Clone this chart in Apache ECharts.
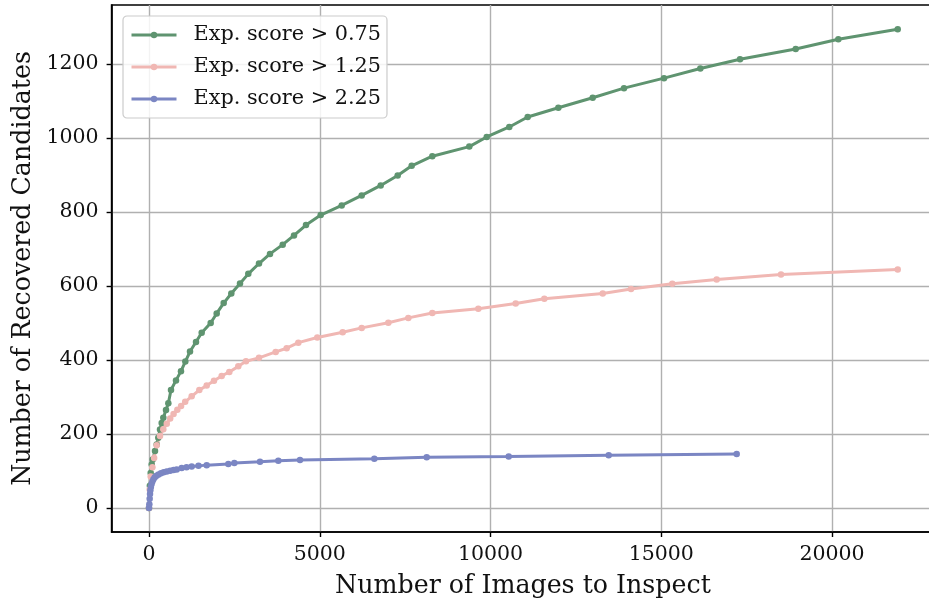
<!DOCTYPE html>
<html>
<head>
<meta charset="utf-8">
<script src="https://cdn.jsdelivr.net/npm/echarts@6/dist/echarts.min.js"></script>
<style>
html,body{margin:0;padding:0;background:#fff;}
#chart{width:929px;height:604px;}
</style>
</head>
<body>
<div id="chart"></div>
<script>
// Series data: [images to inspect, recovered candidates]
const seriesNames = ['Exp. score > 0.75', 'Exp. score > 1.25', 'Exp. score > 2.25'];
const greenData = [
  [0,0],[25,60],[50,95],[79,118],[108,131],[176,154],[225,172],[272,190],[322,212],[371,230],[419,244],
  [498,265],[566,283],[644,319],[791,345],[937,370],[1064,396],[1201,423],[1376,449],[1543,474],
  [1806,500],[1982,526],[2187,554],[2410,580],[2665,607],[2908,633],[3221,661],[3543,687],[3915,712],
  [4246,737],[4597,765],[5028,792],[5643,818],[6228,845],[6785,872],[7282,899],[7692,925],[8296,951],
  [9379,977],[9889,1003],[10550,1030],[11089,1057],[11986,1082],[12992,1109],[13909,1135],[15081,1162],
  [16144,1188],[17306,1213],[18937,1241],[20185,1267],[21924,1294]
];
const pinkData = [
  [0,0],[20,50],[50,85],[100,110],[150,135],[225,170],[322,195],[419,213],[520,228],[620,242],[720,254],
  [830,266],[940,276],[1060,287],[1250,302],[1474,319],[1690,331],[1903,344],[2128,357],[2352,368],
  [2615,383],[2840,397],[3221,406],[3710,422],[4032,432],[4372,447],[4928,461],[5672,475],[6228,487],
  [7008,501],[7593,514],[8296,527],[9643,539],[10737,553],[11576,566],[13286,580],[14114,592],
  [15323,606],[16623,618],[18506,631],[21924,645]
];
const blueData = [
  [0,0],[10,10],[20,25],[30,38],[40,48],[55,57],[75,65],[100,72],[130,78],[170,83],[220,87],[280,91],
  [350,94],[430,97],[520,99],[620,101],[720,103],[811,104],[957,108],[1100,110],[1250,112],[1450,114],
  [1689,116],[2323,119],[2499,122],[3250,125],[3787,128],[4422,130],[6598,133],[8132,137],[10533,139],
  [13461,143],[17209,146]
];
const xTicks = [0, 5000, 10000, 15000, 20000];
const yTicks = [0, 200, 400, 600, 800, 1000, 1200];
const colors = ['#5f9470', '#f0b7b3', '#7b86c3'];

const FONT = 'DejaVu Serif';
const chart = echarts.init(document.getElementById('chart'), null, {renderer: 'canvas'});
const mkSeries = (name, data, color) => ({
  name, type: 'line', data,
  symbol: 'circle', symbolSize: 6.5, showSymbol: true,
  lineStyle: {color, width: 3},
  itemStyle: {color},
  animation: false, z: 3
});
const plain = v => String(v);
chart.setOption({
  animation: false,
  grid: {left: 111.6, top: 5, width: 822.7, height: 527, containLabel: false, outerBoundsMode: 'none',
         show: true, borderColor: '#000', borderWidth: 1.6, backgroundColor: 'transparent'},
  legend: {
    left: 123, top: 16, orient: 'vertical',
    data: seriesNames,
    itemWidth: 45, itemHeight: 8, itemGap: 8,
    padding: [7, 6, 7, 7],
    backgroundColor: 'rgba(255,255,255,0.85)',
    borderColor: '#cccccc', borderWidth: 1.2, borderRadius: 4,
    lineStyle: {width: 3},
    textStyle: {fontFamily: FONT, fontSize: 20.8, color: '#111', lineHeight: 24, padding: [0, 0, 0, 12]}
  },
  xAxis: {
    type: 'value', min: -1095, max: 22995, splitNumber: 5,
    name: 'Number of Images to Inspect', nameLocation: 'middle', nameGap: 42,
    nameTextStyle: {fontFamily: FONT, fontSize: 25.3, color: '#111'},
    axisLine: {onZero: false, lineStyle: {color: '#000', width: 1.6}},
    axisTick: {show: true, length: 5, lineStyle: {color: '#000', width: 1.4}, customValues: xTicks},
    axisLabel: {fontFamily: FONT, fontSize: 20.5, color: '#111', margin: 12, customValues: xTicks, formatter: plain},
    splitLine: {show: true, lineStyle: {color: '#b0b0b0', width: 1.4}}
  },
  yAxis: {
    type: 'value', min: -64.75, max: 1359.75, splitNumber: 7,
    name: 'Number of Recovered Candidates', nameLocation: 'middle', nameGap: 71,
    nameTextStyle: {fontFamily: FONT, fontSize: 25.3, color: '#111'},
    axisLine: {onZero: false, lineStyle: {color: '#000', width: 1.6}},
    axisTick: {show: true, length: 5, lineStyle: {color: '#000', width: 1.4}, customValues: yTicks},
    axisLabel: {fontFamily: FONT, fontSize: 20.5, color: '#111', margin: 13, customValues: yTicks, formatter: plain},
    splitLine: {show: true, lineStyle: {color: '#b0b0b0', width: 1.4}}
  },
  series: [
    mkSeries(seriesNames[0], greenData, colors[0]),
    mkSeries(seriesNames[1], pinkData, colors[1]),
    mkSeries(seriesNames[2], blueData, colors[2])
  ]
});
</script>
</body>
</html>
